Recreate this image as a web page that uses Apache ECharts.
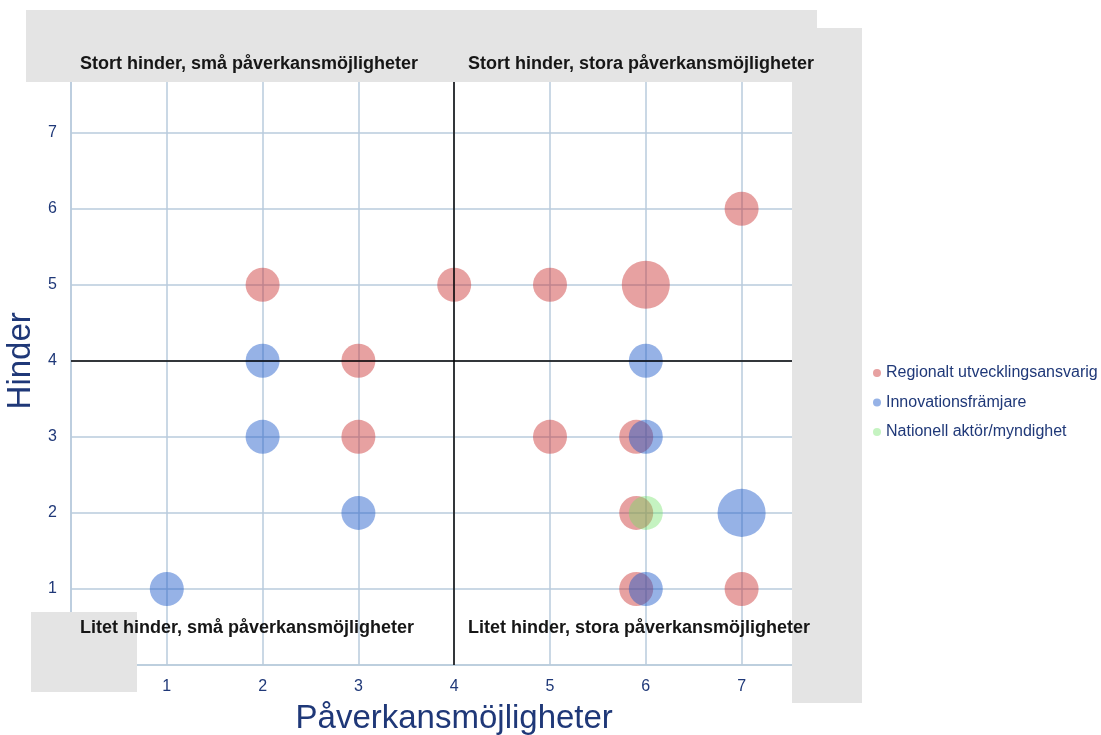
<!DOCTYPE html>
<html>
<head>
<meta charset="utf-8">
<script src="https://cdn.jsdelivr.net/npm/echarts@6/dist/echarts.min.js"></script>
<style>
html,body{margin:0;padding:0;background:#fff;}
#chart{width:1101px;height:735px;}
</style>
</head>
<body>
<div id="chart"></div>
<script>
// [påverkansmöjligheter, hinder, antal]
const regionalData = [
  [2,5,1],[3,4,1],[3,3,1],[4,5,1],[5,5,1],[6,5,2],[7,6,1],
  [5,3,1],[5.9,3,1],[5.9,2,1],[5.9,1,1],[7,1,1]
];
const innovationData = [
  [2,4,1],[2,3,1],[3,2,1],[1,1,1],[6,4,1],[6,3,1],[6,1,1],[7,2,2]
];
const nationalData = [[6,2,1]];
const seriesNames = ['Regionalt utvecklingsansvarig','Innovationsfrämjare','Nationell aktör/myndighet'];
const xAxisName = 'Påverkansmöjligheter';
const yAxisName = 'Hinder';
const quadrantLabels = [
  'Stort hinder, små påverkansmöjligheter',
  'Stort hinder, stora påverkansmöjligheter',
  'Litet hinder, små påverkansmöjligheter',
  'Litet hinder, stora påverkansmöjligheter'
];
const axisMin = 0, axisMax = 8, quadrantSplit = 4;

const gridColor = '#b9cbdc';
const labelColor = '#1f3878';
const boxColor = '#e4e4e4';
const textColor = '#161616';
const font = 'Liberation Sans, Arial, sans-serif';

const chart = echarts.init(document.getElementById('chart'), null, {renderer:'canvas'});

function axisCommon(margin, gap, name){
  return {
    type:'value', min:axisMin, max:axisMax, interval:1,
    name:name, nameGap:gap, nameLocation:'middle',
    nameTextStyle:{color:labelColor, fontSize:33, fontFamily:font},
    axisLine:{show:true, lineStyle:{color:gridColor, width:1.5}},
    axisTick:{show:false},
    splitLine:{show:true, lineStyle:{color:gridColor, width:1.5}},
    axisLabel:{
      color:labelColor, fontSize:16, fontFamily:font, margin:margin,
      formatter: v => (v === axisMin || v === axisMax) ? '' : String(v)
    }
  };
}

const sizeFn = d => 34 * Math.sqrt(d[2]);

const option = {
  animation:false,
  backgroundColor:'#fff',
  grid:{left:71, top:56.6, right:263.6, bottom:70, containLabel:false, outerBoundsMode:'none'},
  xAxis:axisCommon(14, 37, xAxisName),
  yAxis:axisCommon(14, 31, yAxisName),
  legend:{
    data:seriesNames,
    orient:'vertical', left:868, top:360,
    icon:'circle', itemWidth:8, itemHeight:8, itemGap:13.5,
    textStyle:{color:labelColor, fontSize:16, fontFamily:font},
    selectedMode:false
  },
  series:[
    {
      name:'quadrants', type:'scatter', data:[], z:1, silent:true,
      markLine:{
        silent:true, symbol:['none','none'], label:{show:false},
        lineStyle:{color:'#000', width:1.5, type:'solid'},
        data:[{xAxis:quadrantSplit},{yAxis:quadrantSplit}]
      }
    },
    {
      name:seriesNames[0], type:'scatter', data:regionalData, symbolSize:sizeFn, z:3,
      itemStyle:{color:'rgba(200,40,40,0.55)'}
    },
    {
      name:seriesNames[1], type:'scatter', data:innovationData, symbolSize:sizeFn, z:4,
      itemStyle:{color:'rgba(25,85,200,0.57)'}
    },
    {
      name:seriesNames[2], type:'scatter', data:nationalData, symbolSize:sizeFn, z:5,
      itemStyle:{color:'rgba(110,225,100,0.5)'}
    }
  ],
  graphic:[
    {type:'rect', z:100, shape:{x:26,y:10,width:791,height:72}, style:{fill:boxColor}},
    {type:'rect', z:100, shape:{x:792,y:28,width:70,height:675}, style:{fill:boxColor}},
    {type:'rect', z:100, shape:{x:31,y:612,width:106,height:80}, style:{fill:boxColor}},
    {type:'text', z:101, left:80, top:55, style:{text:quadrantLabels[0], fill:textColor, font:'bold 18px '+font}},
    {type:'text', z:101, left:468, top:55, style:{text:quadrantLabels[1], fill:textColor, font:'bold 18px '+font}},
    {type:'text', z:101, left:80, top:619, style:{text:quadrantLabels[2], fill:textColor, font:'bold 18px '+font}},
    {type:'text', z:101, left:468, top:619, style:{text:quadrantLabels[3], fill:textColor, font:'bold 18px '+font}}
  ]
};
chart.setOption(option);
</script>
</body>
</html>
